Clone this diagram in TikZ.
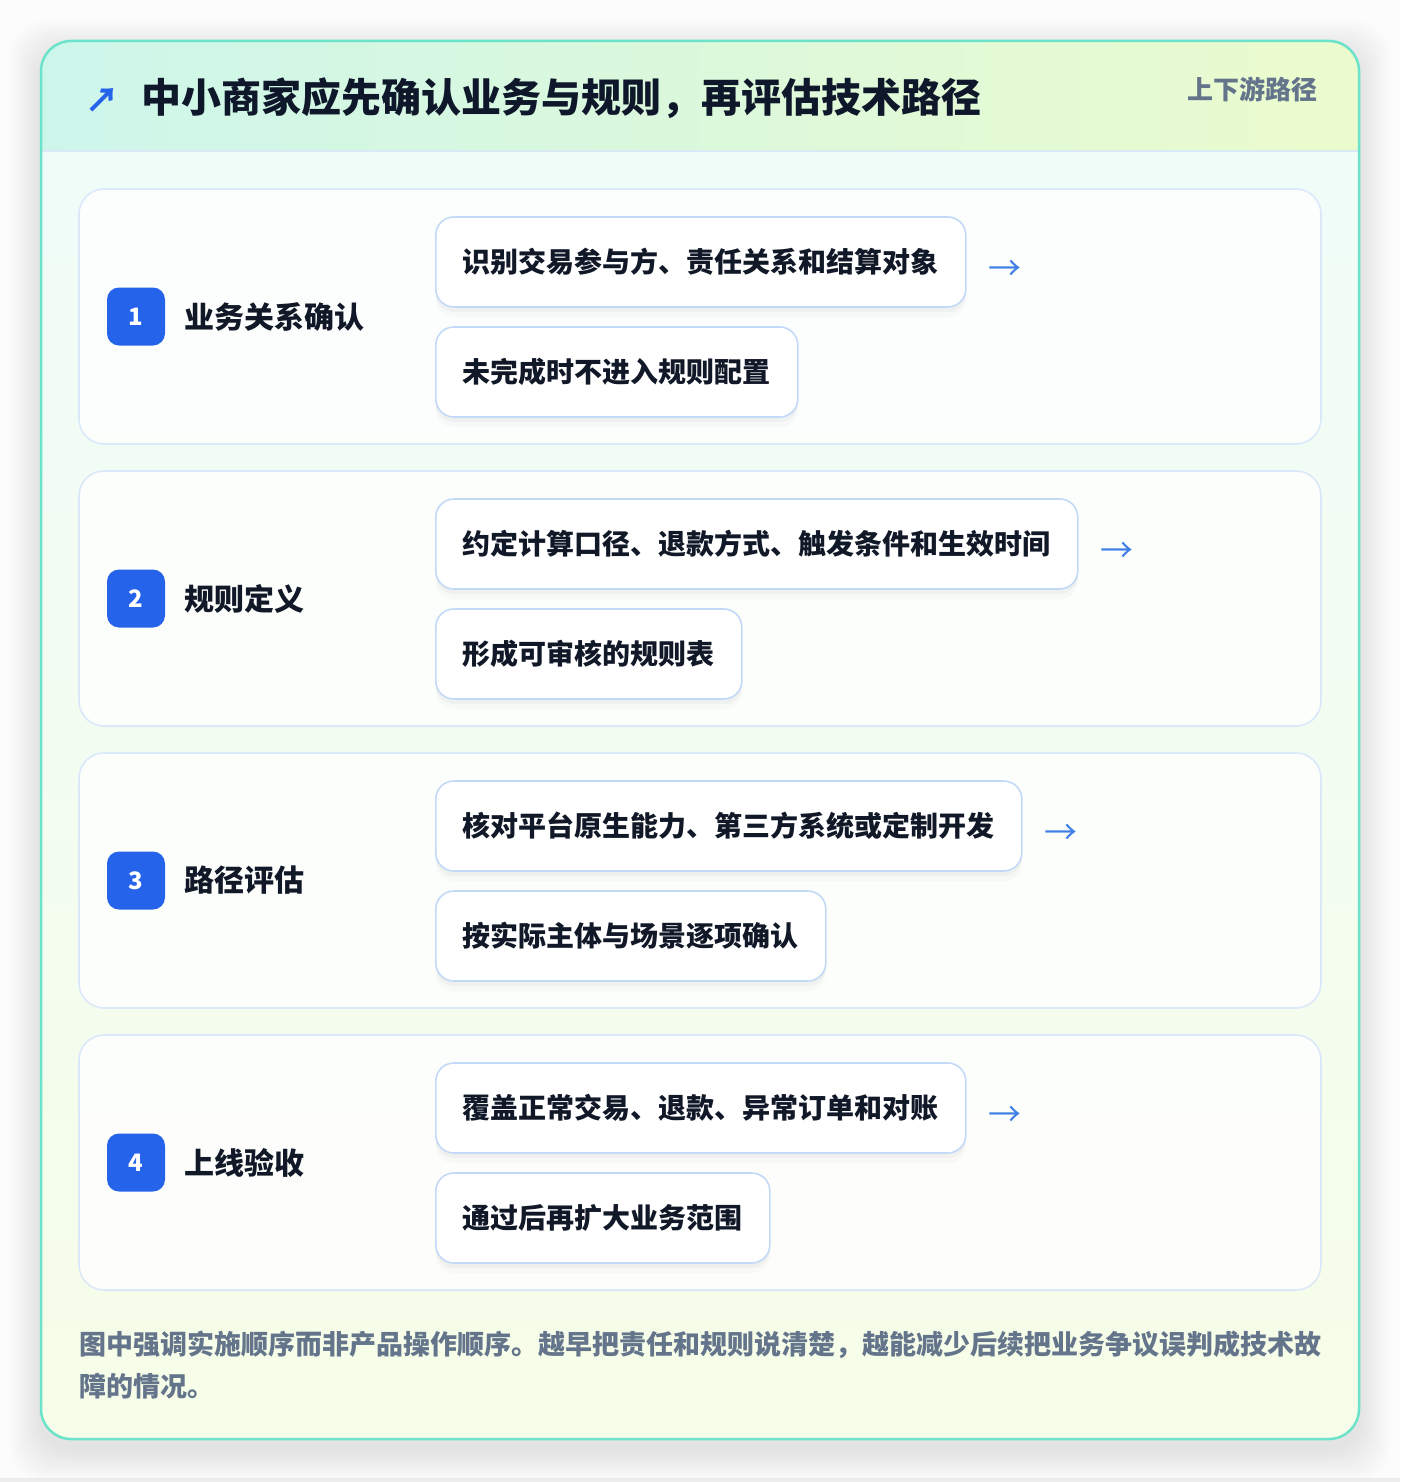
\documentclass[tikz,border=0pt]{standalone}
\usepackage{fontspec}
\setmainfont{Noto Sans CJK SC}
\usetikzlibrary{positioning}
\definecolor{pagebg}{HTML}{FCFCFD}
\definecolor{panelline}{HTML}{6BE3CB}
\definecolor{headleft}{HTML}{CDF6EB}
\definecolor{headright}{HTML}{EBFBCD}
\definecolor{bodytop}{HTML}{F0FCF8}
\definecolor{bodybottom}{HTML}{F6FDE8}
\definecolor{headsep}{HTML}{D9E9F6}
\definecolor{cardline}{HTML}{DAE8FA}
\definecolor{chipline}{HTML}{C2D9F7}
\definecolor{badgeblue}{HTML}{2563EB}
\definecolor{arrowblue}{HTML}{3F7FE6}
\definecolor{titleink}{HTML}{0F172A}
\definecolor{mutedink}{HTML}{64748B}
\definecolor{labelink}{HTML}{111827}
\begin{document}
\begin{tikzpicture}[x=1pt, y=-1pt, line join=round, line cap=round,
  stepcard/.style={draw=cardline, line width=1.6pt, fill=white, fill opacity=0.8, text opacity=1, rounded corners=25pt, minimum width=1242pt, minimum height=255pt, inner sep=0pt},
  badge/.style={fill=badgeblue, rounded corners=12pt, minimum size=58pt, inner sep=0pt, text=white, font=\fontsize{24}{28}\selectfont\bfseries},
  steplabel/.style={inner sep=0pt, text=labelink, font=\fontsize{30}{36}\selectfont\bfseries},
  chip/.style={draw=chipline, line width=1.6pt, fill=white, rounded corners=18pt, minimum height=90pt, inner xsep=27pt, inner ysep=0pt, text=labelink, font=\fontsize{28}{34}\selectfont\bfseries,
    preaction={fill=black, fill opacity=0.02, transform canvas={yshift=-10pt}},
    preaction={fill=black, fill opacity=0.03, transform canvas={yshift=-5pt}}},
  nextmark/.style={inner sep=0pt, text=arrowblue, font=\fontsize{33}{36}\selectfont}]
\useasboundingbox (0,0) rectangle (1400,1482);
\fill[pagebg] (0,0) rectangle (1400,1482);
\fill[black!7] (0,1478) rectangle (1400,1482);
\foreach \k in {1,...,12}
  \fill[black, fill opacity=0.008, rounded corners=34pt] (41-\k*2.6,52-\k*2.6) rectangle (1359+\k*2.6,1450+\k*2.6);
\begin{scope}
\clip[rounded corners=30pt] (41,41) rectangle (1359,1439);
\shade[top color=bodytop, bottom color=bodybottom] (41,151) rectangle (1359,1439);
\shade[left color=headleft, right color=headright] (41,41) rectangle (1359,151);
\end{scope}
\draw[headsep, line width=1.5pt] (41,151) -- (1359,151);
\draw[panelline, line width=2.5pt, rounded corners=30pt] (41,41) rectangle (1359,1439);

\node[inner sep=0pt, text=badgeblue, font=\fontsize{34}{38}\selectfont\bfseries] (mark) at (102,100) {↗};
\node[anchor=west, inner sep=0pt, text=titleink, font=\fontsize{40}{48}\selectfont\bfseries] (title) at (141,98) {中小商家应先确认业务与规则，再评估技术路径};
\node[anchor=east, inner sep=0pt, text=mutedink, font=\fontsize{26}{30}\selectfont\bfseries] (tag) at (1318,89) {上下游路径};

\foreach \i/\name/\ca/\cb in {1/业务关系确认/识别交易参与方、责任关系和结算对象/未完成时不进入规则配置,
  2/规则定义/约定计算口径、退款方式、触发条件和生效时间/形成可审核的规则表,
  3/路径评估/核对平台原生能力、第三方系统或定制开发/按实际主体与场景逐项确认,
  4/上线验收/覆盖正常交易、退款、异常订单和对账/通过后再扩大业务范围} {
  \pgfmathsetmacro\cardtop{189+282*(\i-1)}
  \node[stepcard] (card\i) at (700,\cardtop+127.5) {};
  \node[badge] (badge\i) at (136,\cardtop+127.5) {\i};
  \node[steplabel, right=19pt of badge\i] (label\i) {\name};
  \node[chip, anchor=west] (chipa\i) at (435,\cardtop+73) {\ca};
  \node[chip, anchor=west] (chipb\i) at (435,\cardtop+183) {\cb};
  \node[nextmark, right=22pt of chipa\i, yshift=-8pt] (next\i) {→};
}

\node[anchor=north west, inner sep=0pt, align=left, text=mutedink, font=\fontsize{27}{42}\selectfont\bfseries] (note) at (79,1331) {图中强调实施顺序而非产品操作顺序。越早把责任和规则说清楚，越能减少后续把业务争议误判成技术故\\障的情况。};
\end{tikzpicture}
\end{document}
